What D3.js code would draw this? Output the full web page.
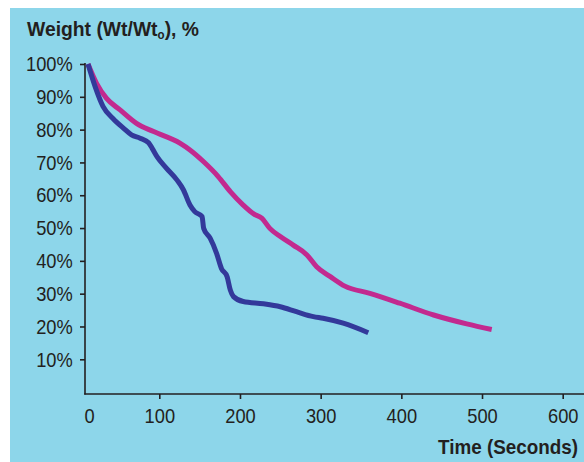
<!DOCTYPE html>
<html>
<head>
<meta charset="utf-8">
<script src="https://cdn.jsdelivr.net/npm/d3@7"></script>
<style>
  body { margin: 0; background: #fff; }
  svg { display: block; }
  text { font-family: "Liberation Sans", Arial, sans-serif; fill: #231f20; }
</style>
</head>
<body>
<svg width="584" height="462"></svg>
<script>
// time in seconds, weight in % of starting weight
var blueTime = [0, 10, 21, 35, 50, 61, 73, 85, 90, 97, 109, 122, 130, 138, 144, 153, 155, 163, 171, 177, 184, 188, 192, 204, 229, 250, 270, 291, 303, 328, 359];
var blueWeight = [100, 93.1, 87.1, 83.4, 80.4, 78.4, 77.4, 76.0, 74.3, 71.7, 68.2, 64.6, 61.6, 57.0, 55.0, 53.5, 49.9, 46.9, 42.3, 37.7, 35.2, 31.1, 29.1, 27.6, 26.9, 26.0, 24.5, 23.0, 22.5, 21.0, 18.1];

var pinkTime = [0, 12, 26, 45, 68, 92, 126, 138, 155, 173, 188, 204, 217, 227, 237, 250, 266, 283, 295, 312, 330, 361, 398, 440, 481, 512];
var pinkWeight = [100, 94.1, 89.5, 86.0, 81.9, 79.4, 75.8, 73.8, 70.2, 65.7, 61.1, 57.0, 54.3, 53.0, 49.9, 47.4, 44.8, 41.8, 38.2, 35.2, 32.3, 30.1, 27.1, 23.5, 20.8, 19.1];

var xTicks = [100, 200, 300, 400, 500, 600];
var yTicks = [10, 20, 30, 40, 50, 60, 70, 80, 90, 100];

var svg = d3.select('svg');

// light blue panel
svg.append('rect').attr('x', 10).attr('y', 8).attr('width', 574).attr('height', 454).attr('fill', '#8dd6ea');

// the drawing squeezes the first 100 s a bit, so the scale has a break at 100
var x = d3.scaleLinear().domain([0, 100, 600]).range([88, 159.3, 562.7]);
var y = d3.scaleLinear().domain([0, 100]).range([392.1, 64]);

var axisColor = '#231f20';
var narrow = 'scale(0.87,1)'; // fake a condensed face

// y axis
var yAxis = svg.append('g').attr('transform', 'translate(85,0)')
    .call(d3.axisLeft(y).tickValues(yTicks).tickSize(5).tickFormat(d => d + '%'));
yAxis.select('.domain').remove();
yAxis.selectAll('.tick text').attr('x', 0).attr('transform', 'translate(-12.3,0) ' + narrow);
svg.append('line').attr('x1', 85).attr('x2', 85).attr('y1', 63).attr('y2', 394.5)
    .attr('stroke', axisColor).attr('stroke-width', 1.6);

// x axis
var xAxis = svg.append('g').attr('transform', 'translate(0,394)')
    .call(d3.axisBottom(x).tickValues(xTicks).tickSize(5).tickPadding(9));
xAxis.select('.domain').remove();
xAxis.selectAll('.tick text').attr('transform', narrow);
svg.append('line').attr('x1', 84.2).attr('x2', 584).attr('y1', 394).attr('y2', 394)
    .attr('stroke', axisColor).attr('stroke-width', 1.6);

// the "0" sits under the start of the curves, no tick
svg.append('text').attr('transform', 'translate(89.5,423) ' + narrow).attr('text-anchor', 'middle')
    .attr('font-size', 21).attr('fill', '#333').text('0');

svg.selectAll('.tick line').attr('stroke', axisColor).attr('stroke-width', 1.6);
svg.selectAll('.tick text').attr('font-size', 21).attr('fill', '#333').attr('font-family', null);

// curves
var line = d3.line()
    .x(d => x(d[0]))
    .y(d => y(d[1]))
    .curve(d3.curveMonotoneX);

svg.append('path').datum(pinkTime.map((t, i) => [t, pinkWeight[i]]))
    .attr('d', line).attr('fill', 'none').attr('stroke', '#c22a8f').attr('stroke-width', 5);
svg.append('path').datum(blueTime.map((t, i) => [t, blueWeight[i]]))
    .attr('d', line).attr('fill', 'none').attr('stroke', '#33399a').attr('stroke-width', 5);

// titles
var title = svg.append('text').attr('x', 27).attr('y', 36).attr('font-size', 20).attr('font-weight', 'bold')
    .attr('textLength', 172).attr('lengthAdjust', 'spacingAndGlyphs');
title.append('tspan').text('Weight (Wt/Wt');
title.append('tspan').attr('font-size', 12).attr('dy', 3).text('o');
title.append('tspan').attr('dy', -3).text('), %');

svg.append('text').attr('x', 578).attr('y', 454).attr('text-anchor', 'end')
    .attr('font-size', 21).attr('font-weight', 'bold')
    .attr('textLength', 140).attr('lengthAdjust', 'spacingAndGlyphs').text('Time (Seconds)');
</script>
</body>
</html>
